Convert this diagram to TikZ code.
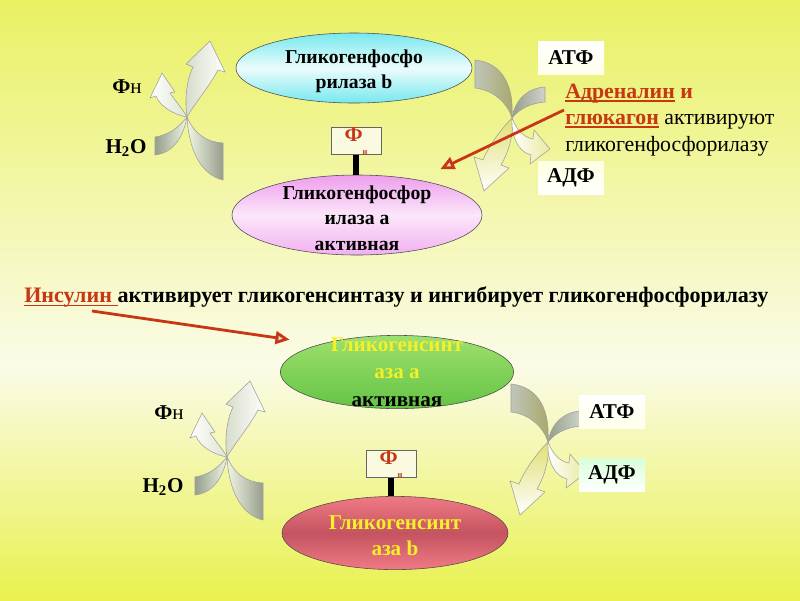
\documentclass[tikz,border=0pt]{standalone}
\usepackage{fontspec}
\setmainfont{Liberation Serif}
\usetikzlibrary{shapes.geometric,arrows.meta}
\newcommand{\hul}[1]{\leavevmode\setbox0\hbox{#1}\rlap{\rule[-2.6pt]{\wd0}{1.1pt}}\box0\relax}

\definecolor{bgtop}{RGB}{233,241,98}
\definecolor{bgmid}{RGB}{251,251,232}
\definecolor{bgbot}{RGB}{232,241,78}
\definecolor{hormred}{RGB}{200,55,20}
\definecolor{syntyellow}{RGB}{245,240,40}
\definecolor{cyanrim}{RGB}{118,232,238}
\definecolor{cyanmid}{RGB}{236,252,252}
\definecolor{pinkrim}{RGB}{238,158,236}
\definecolor{pinkmid}{RGB}{252,230,250}
\definecolor{greenrim}{RGB}{100,196,68}
\definecolor{greenmid}{RGB}{158,224,110}
\definecolor{redrim}{RGB}{240,122,132}
\definecolor{redmid}{RGB}{196,84,96}
\definecolor{ribgray}{RGB}{150,158,140}
\definecolor{ribolive}{RGB}{168,168,104}
\definecolor{ribpale}{RGB}{240,246,226}
\definecolor{ribyellow}{RGB}{224,224,116}
\definecolor{boxfill}{RGB}{250,250,224}

\begin{document}
\begin{tikzpicture}[x=0.025cm, y=-0.025cm,
  enzyme/.style={ellipse, draw=black!70, thin, inner sep=0pt},
  enztext/.style={align=center, inner sep=0pt, font=\fontsize{14}{18}\selectfont\bfseries},
  fnbox/.style={draw=black!60, thin, fill=boxfill, minimum width=1.25cm, minimum height=0.62cm, inner sep=0pt},
  stick/.style={line width=0.16cm},
  ribbon/.style={draw=gray!75, thin},
  sidetext/.style={inner sep=0pt, font=\fontsize{15}{15}\selectfont},
  nucl/.style={minimum width=1.65cm, minimum height=0.84cm, inner sep=0pt, font=\fontsize{15}{15}\selectfont\bfseries},
  hormtext/.style={anchor=base west, inner sep=0pt, font=\fontsize{15.5}{18}\selectfont},
  hormarrow/.style={draw=hormred, line width=0.07cm, -{Triangle[length=0.35cm, width=0.32cm, fill=hormred!20!white]}}]

% Background and page size
\shade[top color=bgtop, bottom color=bgmid] (0,0) rectangle (800,365);
\shade[top color=bgmid, bottom color=bgbot] (0,365) rectangle (800,600);
\useasboundingbox (0,0) rectangle (800,600);

% Twisted ribbon arrows, crossing at (0,0)
\def\leftpair{
  \shadedraw[ribbon, left color=ribgray, right color=ribpale] (0,0) .. controls (-8,10) and (-18,18) .. (-32,20) -- (-32,38) .. controls (-15,36) and (-4,22) .. (0,0);
  \shadedraw[ribbon, left color=ribpale, right color=ribgray] (0,0) .. controls (8,18) and (20,25) .. (36,26) -- (36,63) .. controls (15,58) and (2,35) .. (0,0);
  \shadedraw[ribbon, left color=white, right color=ribpale!80!ribgray] (0,0) .. controls (-12,-2) and (-27,-10) .. (-31,-21) -- (-37,-19) -- (-25,-44) -- (-12,-25) -- (-17,-24) .. controls (-10,-14) and (-3,-6) .. (0,0);
  \shadedraw[ribbon, left color=ribpale!70!ribgray, right color=white] (0,0) .. controls (-3,-22) and (1,-40) .. (6,-50) -- (-1,-53) -- (23,-76) -- (38,-45) -- (31,-47) .. controls (22,-30) and (8,-14) .. (0,0);
}
\def\rightpair{
  \shadedraw[ribbon, left color=ribgray!60!white, right color=ribolive] (-37,-58) .. controls (-8,-55) and (2,-30) .. (0,0) .. controls (-4,-14) and (-18,-28) .. (-37,-30) -- cycle;
  \shadedraw[ribbon, left color=ribgray, right color=ribgray!45!white] (0,0) .. controls (3,-18) and (15,-30) .. (33,-31) -- (33,-16) .. controls (18,-15) and (6,-8) .. (0,0);
  \shadedraw[ribbon, top color=ribyellow, bottom color=white] (0,0) .. controls (2,18) and (-4,35) .. (-11,47) -- (-3,50) -- (-28,73) -- (-38,39) -- (-29,42) .. controls (-22,25) and (-8,8) .. (0,0);
  \shadedraw[ribbon, left color=white, right color=ribyellow!70!white] (0,0) .. controls (4,10) and (10,19) .. (21,21) -- (22,12) -- (38,31) -- (18,46) -- (19,37) .. controls (6,34) and (-1,18) .. (0,0);
}
\def\fsub{\textcolor{hormred}{\bfseries\fontsize{15}{15}\selectfont Ф\raisebox{-1.4ex}{\fontsize{6}{6}\selectfont н}}}

\begin{scope}[shift={(187,117)}] \leftpair \end{scope}
\begin{scope}[shift={(512,118)}] \rightpair \end{scope}
\begin{scope}[shift={(227,457)}] \leftpair \end{scope}
\begin{scope}[shift={(548,442)}] \rightpair \end{scope}

% Phosphorylase
\node[enzyme, minimum width=5.9cm, minimum height=1.75cm, top color=cyanrim, bottom color=cyanrim, middle color=cyanmid] (phosB) at (354,68) {};
\node[enztext] (phosBtext) at (354,71) {Гликогенфосфо\\рилаза b};
\node[enzyme, minimum width=6.25cm, minimum height=2cm, top color=pinkrim, bottom color=pinkrim!75!pinkmid, middle color=pinkmid] (phosA) at (357,215) {};
\node[enztext] (phosAtext) at (357,218) {Гликогенфосфор\\илаза а\\активная};
\node[fnbox] (fnA) at (356,141) {\fsub};
\draw[stick] (fnA.south) -- (fnA.south |- phosA.north);

\node[sidetext] (fnL1) at (127,87) {{\bfseries Ф}н};
\node[sidetext, font=\fontsize{15}{15}\selectfont\bfseries] (waterL1) at (126,148) {H\textsubscript{2}O};
\node[nucl, top color=white, bottom color=white!92!yellow] (atp1) at (571,58) {АТФ};
\node[nucl, top color=white!88!yellow, bottom color=white] (adp1) at (571,178) {АДФ};

\node[hormtext] (adr1) at (565,98) {\textcolor{hormred}{\bfseries\hul{Адреналин} и}};
\node[hormtext] (adr2) at (565,124) {\textcolor{hormred}{\bfseries\hul{глюкагон}} активируют};
\node[hormtext] (adr3) at (565,151) {гликогенфосфорилазу};
\coordinate (adrtail) at (564,110);
\draw[hormarrow, shorten >=0.62cm] (adrtail) -- (phosA.30);

% Insulin
\node[anchor=west, inner sep=0pt, font=\fontsize{15.7}{18}\selectfont\bfseries] (ins) at (24,297) {\textcolor{hormred}{\hul{Инсулин\ }}активирует гликогенсинтазу и ингибирует гликогенфосфорилазу};
\coordinate (instail) at (92,311);

% Glycogen synthase
\node[enzyme, minimum width=5.83cm, minimum height=1.83cm, top color=greenmid, bottom color=greenrim] (synA) at (397,372) {};
\node[enztext, font=\fontsize{15}{19.5}\selectfont\bfseries] (synAtext) at (synA) {\textcolor{syntyellow}{Гликогенсинт}\\\textcolor{syntyellow}{аза а}\\активная};
\draw[hormarrow, shorten >=0.78cm] (instail) -- (synA.160);
\node[enzyme, minimum width=5.65cm, minimum height=1.83cm, top color=redrim, bottom color=redrim, middle color=redmid] (synB) at (395,533) {};
\node[enztext, text=syntyellow, font=\fontsize{15}{18.5}\selectfont\bfseries] (synBtext) at (395,536) {Гликогенсинт\\аза b};
\node[fnbox] (fnB) at (391,464) {\fsub};
\draw[stick] (fnB.south) -- (fnB.south |- synB.north);

\node[sidetext] (fnL2) at (169,413) {{\bfseries Ф}н};
\node[sidetext, font=\fontsize{15}{15}\selectfont\bfseries] (waterL2) at (163,487) {H\textsubscript{2}O};
\node[nucl, top color=white, bottom color=white!92!yellow] (atp2) at (612,412) {АТФ};
\node[nucl, top color=white!85!green, bottom color=white] (adp2) at (612,475) {АДФ};
\end{tikzpicture}
\end{document}
